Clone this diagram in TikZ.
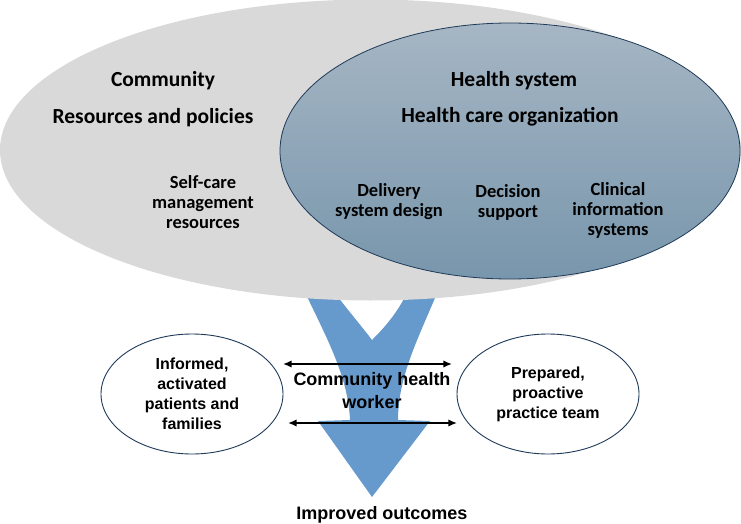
\documentclass[tikz,border=0pt]{standalone}
\usepackage{fontspec}
\setmainfont{Carlito}
\newfontfamily\arialfont{Liberation Sans}
\usetikzlibrary{arrows.meta,positioning,shapes.geometric}
\definecolor{mist}{RGB}{217,217,217}
\definecolor{slatetop}{RGB}{166,182,196}
\definecolor{slatebot}{RGB}{120,150,172}
\definecolor{deepnavy}{RGB}{31,58,88}
\definecolor{sky}{RGB}{102,153,204}
\tikzset{
  >={Latex[length=3mm,width=2.6mm]},
  head/.style={font=\fontsize{21.5}{24}\selectfont\bfseries},
  item/.style={font=\fontsize{18.5}{20}\selectfont\bfseries,align=center},
  actor/.style={ellipse,draw=deepnavy,line width=0.9pt,fill=white,
    minimum width=182pt,minimum height=120pt,inner sep=0pt,align=center,
    font=\arialfont\fontsize{16}{20}\selectfont\bfseries},
  caption/.style={font=\arialfont\fontsize{18}{23}\selectfont\bfseries,align=center},
  link/.style={<->,line width=1.8pt},
}
\begin{document}
\begin{tikzpicture}[x=1pt,y=-1pt]
  \useasboundingbox (0,0) rectangle (741,524);
  % merging arrow, its top hidden by the community ellipse
  \fill[sky] (302,286) .. controls (325,335) and (348,375) .. (350,420) -- (318,421)
    -- (372,497) -- (430,421) -- (398,420) .. controls (398,375) and (420,335) .. (440,286)
    -- (410,286) .. controls (400,310) and (386,326) .. (372,340)
    .. controls (360,324) and (344,306) .. (330,286) -- cycle;
  \node[ellipse,fill=mist,minimum width=741pt,minimum height=301pt,inner sep=0pt] (community) at (370.5,150) {};
  \node[ellipse,draw=deepnavy,line width=0.8pt,top color=slatetop,bottom color=slatebot,
    minimum width=460pt,minimum height=256pt,inner sep=0pt] (healthsys) at (510,151) {};
  \node[head] (comm) at (163,81) {Community};
  \node[head] (respol) at (153,118) {Resources and policies};
  \node[item] (selfcare) at (203,202) {Self-care\\management\\resources};
  \node[head] (hs) at (514,81) {Health system};
  \node[head] (hco) at (510,117) {Health care organization};
  \node[item] (delivery) at (389,202) {Delivery\\system design};
  \node[item] (decision) at (508,202) {Decision\\support};
  \node[item] (clinical) at (618,210) {Clinical\\information\\systems};
  \node[actor] (patients) at (192,394) {Informed,\\activated\\patients and\\families};
  \node[actor] (team) at (548,394) {Prepared,\\proactive\\practice team};
  \node[caption] (chw) at (372,391) {Community health\\worker};
  \node[caption] (outcome) at (382,515) {Improved outcomes};
  \coordinate (upL) at (283,364);
  \coordinate (upR) at (452,364);
  \coordinate (loL) at (288,423);
  \coordinate (loR) at (457,423);
  \draw[link] (upL) -- (upR);
  \draw[link] (loL) -- (loR);
\end{tikzpicture}
\end{document}
